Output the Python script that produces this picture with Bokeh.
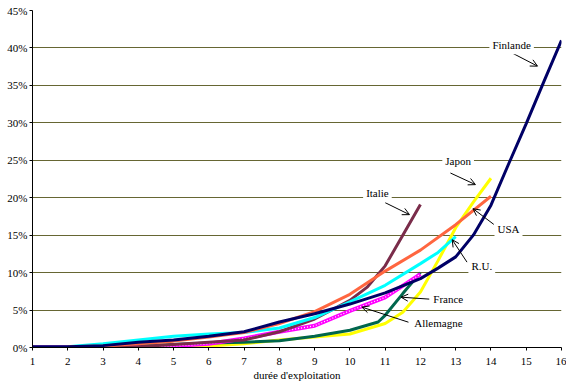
from bokeh.plotting import figure
from bokeh.models import (Range1d, FixedTicker, PrintfTickFormatter, Label,
                          Arrow, OpenHead)
from bokeh.embed import file_html
from bokeh.resources import INLINE

# ---- data ----
fin_x = [1, 2, 3, 4, 5, 6, 7, 8, 9, 10, 11, 12, 12.5, 13, 13.5, 14, 14.5, 15, 15.5, 16]
fin_y = [0.1, 0.1, 0.25, 0.7, 1.0, 1.5, 2.1, 3.4, 4.5, 5.8, 7.3, 9.2, 10.6, 12.1, 15.0, 19.0, 24.5, 29.9, 35.5, 41.0]

usa_x = [2, 3, 4, 5, 6, 7, 8, 9, 10, 11, 12, 13, 14]
usa_y = [0.1, 0.2, 0.5, 0.85, 1.4, 2.0, 3.2, 4.8, 7.1, 10.2, 13.0, 16.4, 20.2]

ru_x = [2, 3, 4, 5, 6, 7, 8, 9, 10, 11, 12, 12.5, 13]
ru_y = [0.1, 0.5, 1.0, 1.5, 1.8, 2.0, 2.6, 4.0, 6.1, 8.3, 11.2, 12.7, 14.8]

ita_x = [1, 2, 3, 4, 5, 6, 7, 8, 9, 10, 10.5, 11, 11.5, 12]
ita_y = [0.0, 0.0, 0.0, 0.1, 0.4, 0.7, 1.0, 2.1, 3.8, 6.3, 8.1, 10.9, 15.0, 19.1]

fra_x = [1, 2, 3, 4, 5, 6, 7, 8, 9, 10, 11, 12]
fra_y = [0.0, 0.0, 0.0, 0.0, 0.2, 0.5, 1.2, 2.1, 2.9, 4.9, 6.7, 9.8]

all_x = [1, 2, 3, 4, 5, 6, 7, 8, 9, 10, 10.8, 11, 11.5, 12]
all_y = [0.05, 0.05, 0.05, 0.2, 0.4, 0.6, 0.7, 0.9, 1.5, 2.3, 3.4, 4.3, 7.2, 10.0]

jap_x = [1, 2, 3, 4, 5, 6, 7, 8, 9, 10, 11, 11.5, 12, 12.5, 13, 13.5, 14]
jap_y = [0.0, 0.0, 0.0, 0.05, 0.1, 0.2, 0.5, 1.0, 1.4, 1.8, 3.2, 4.7, 7.4, 11.6, 16.0, 19.4, 22.6]

x_ticks = list(range(1, 17))
y_ticks = [0, 5, 10, 15, 20, 25, 30, 35, 40, 45]
x_title = "durée d'exploitation"

# annotation texts: name, label x, label y, arrow start x, y, arrow end x, y
ann_names = ["Finlande", "Japon", "Italie", "USA", "R.U.", "France", "Allemagne"]
ann_lx = [13.955, 12.62, 10.375, 14.10, 13.36, 12.28, 11.74]
ann_ly = [40.37, 24.87, 20.59, 15.78, 10.83, 6.42, 3.21]
arr_x0 = [14.61, 12.85, 11.00, 14.08, 13.32, 12.25, 11.66]
arr_y0 = [39.30, 23.30, 19.34, 16.44, 11.40, 6.46, 3.38]
arr_x1 = [15.32, 13.56, 11.69, 13.49, 12.90, 11.45, 10.34]
arr_y1 = [37.57, 21.75, 17.74, 18.54, 14.40, 6.72, 5.39]

SERIF = "Liberation Serif"

p = figure(width=566, height=383, output_backend="svg", toolbar_location=None,
           x_range=Range1d(1, 16), y_range=Range1d(0, 45),
           min_border_left=32, min_border_right=5, min_border_top=10,
           min_border_bottom=36)
p.outline_line_color = None
p.background_fill_color = "white"

p.xgrid.grid_line_color = None
p.ygrid.grid_line_color = "#666633"
p.ygrid.grid_line_width = 1
p.ygrid.ticker = FixedTicker(ticks=y_ticks)

p.xaxis.ticker = FixedTicker(ticks=x_ticks)
p.yaxis.ticker = FixedTicker(ticks=y_ticks)
p.yaxis.formatter = PrintfTickFormatter(format="%d%%")
for ax in (p.xaxis, p.yaxis):
    ax.axis_line_color = "black"
    ax.major_tick_line_color = "black"
    ax.major_tick_out = 3
    ax.major_tick_in = 0
    ax.minor_tick_line_color = None
    ax.major_label_text_font = SERIF
    ax.major_label_text_font_size = "11px"
    ax.major_label_text_font_style = "normal"
    ax.major_label_text_color = "black"
p.yaxis.major_label_standoff = 2
p.xaxis.major_label_standoff = 7
p.xaxis.axis_label = x_title
p.xaxis.axis_label_text_font = SERIF
p.xaxis.axis_label_text_font_size = "11px"
p.xaxis.axis_label_text_font_style = "normal"
p.xaxis.axis_label_text_color = "black"
p.xaxis.axis_label_standoff = 1

LW = 3
p.line(jap_x, jap_y, line_color="#ffff00", line_width=LW)
p.line(all_x, all_y, line_color="#00664d", line_width=LW)
p.line(fra_x, fra_y, line_color="#ff00ff", line_width=LW + 1)
p.line(fra_x, fra_y, line_color="white", line_width=1.2, line_dash="1 2")
p.line(ita_x, ita_y, line_color="#7a2c4a", line_width=LW)
p.line(ru_x, ru_y, line_color="#00ffff", line_width=LW)
p.line(usa_x, usa_y, line_color="#ff6640", line_width=LW)
p.line(fin_x, fin_y, line_color="#000066", line_width=LW)

for name, lx, ly, x0, y0, x1, y1 in zip(ann_names, ann_lx, ann_ly,
                                        arr_x0, arr_y0, arr_x1, arr_y1):
    p.add_layout(Arrow(x_start=x0, y_start=y0, x_end=x1, y_end=y1,
                       line_color="black", line_width=1,
                       end=OpenHead(size=7, line_color="black", line_width=1)))
    p.add_layout(Label(x=lx, y=ly, text=name, text_font=SERIF,
                       text_font_size="11px", text_font_style="normal",
                       text_color="black",
                       text_align="left", text_baseline="middle",
                       background_fill_color="white", padding=3))

open("out.html", "w").write(file_html(p, INLINE))
